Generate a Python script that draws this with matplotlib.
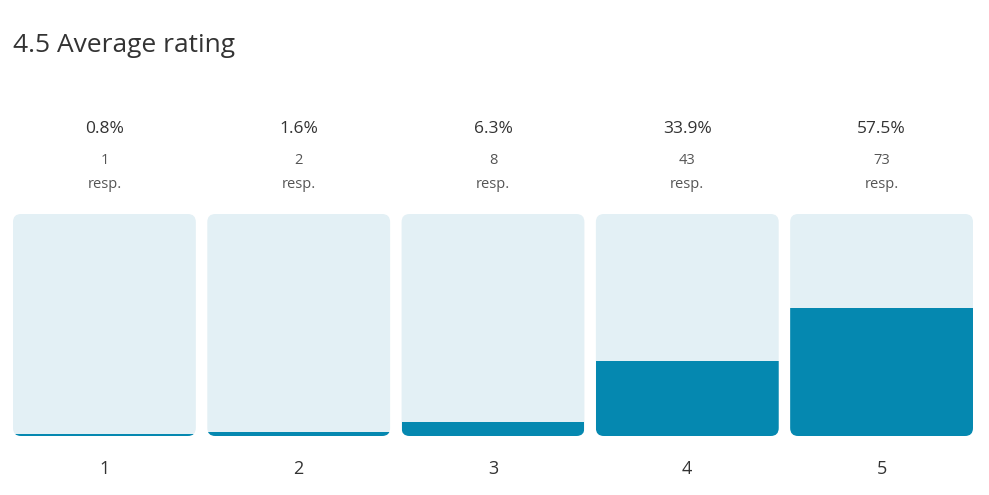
import matplotlib.pyplot as plt
import matplotlib.transforms as mtransforms
from matplotlib.patches import FancyBboxPatch, Rectangle

plt.rcParams['font.family'] = ['Open Sans', 'DejaVu Sans']

ratings = ['1', '2', '3', '4', '5']
percents = [0.8, 1.6, 6.3, 33.9, 57.5]
responses = [1, 2, 8, 43, 73]
average = 4.5

bg_color = '#e3f0f5'
fill_color = '#0588b0'
W, H = 989, 495

fig = plt.figure(figsize=(W / 100, H / 100), dpi=100)
ax = fig.add_axes([13 / W, 59 / H, 960 / W, 222 / H])
w = 0.941
ax.set_xlim(-w / 2, len(ratings) - 1 + w / 2)
ax.set_ylim(0, 100)
ax.axis('off')

# rounding: ~8px in both directions
px_x = 960 / (len(ratings) - 1 + w)
px_y = 222 / 100
r = 8 / px_x
aspect = px_x / px_y

for i, p in enumerate(percents):
    bg = FancyBboxPatch((i - w / 2 + r, r * aspect), w - 2 * r, 100 - 2 * r * aspect,
                        boxstyle=f'round,pad={r},rounding_size={r}',
                        mutation_aspect=aspect, fc=bg_color, ec='none')
    ax.add_patch(bg)
    fill = Rectangle((i - w / 2, 0), w, p, fc=fill_color, ec='none')
    ax.add_patch(fill)
    fill.set_clip_path(bg)

tr = mtransforms.blended_transform_factory(ax.transData, fig.transFigure)
for i, (p, n) in enumerate(zip(percents, responses)):
    ax.text(i, 1 - 129 / H, f'{p}%', transform=tr, ha='center', va='center',
            fontsize=12.5, color='#333333')
    ax.text(i, 1 - 161 / H, str(n), transform=tr, ha='center', va='center',
            fontsize=10.5, color='#555555')
    ax.text(i, 1 - 185 / H, 'resp.', transform=tr, ha='center', va='center',
            fontsize=10.5, color='#555555')
    ax.text(i, 1 - 469 / H, ratings[i], transform=tr, ha='center', va='center',
            fontsize=13, color='#333333')

fig.text(13 / W, 1 - 46 / H, f'{average} Average rating', ha='left', va='center',
         fontsize=19, color='#333333')

fig.savefig('out.png', dpi=100, facecolor='white')
